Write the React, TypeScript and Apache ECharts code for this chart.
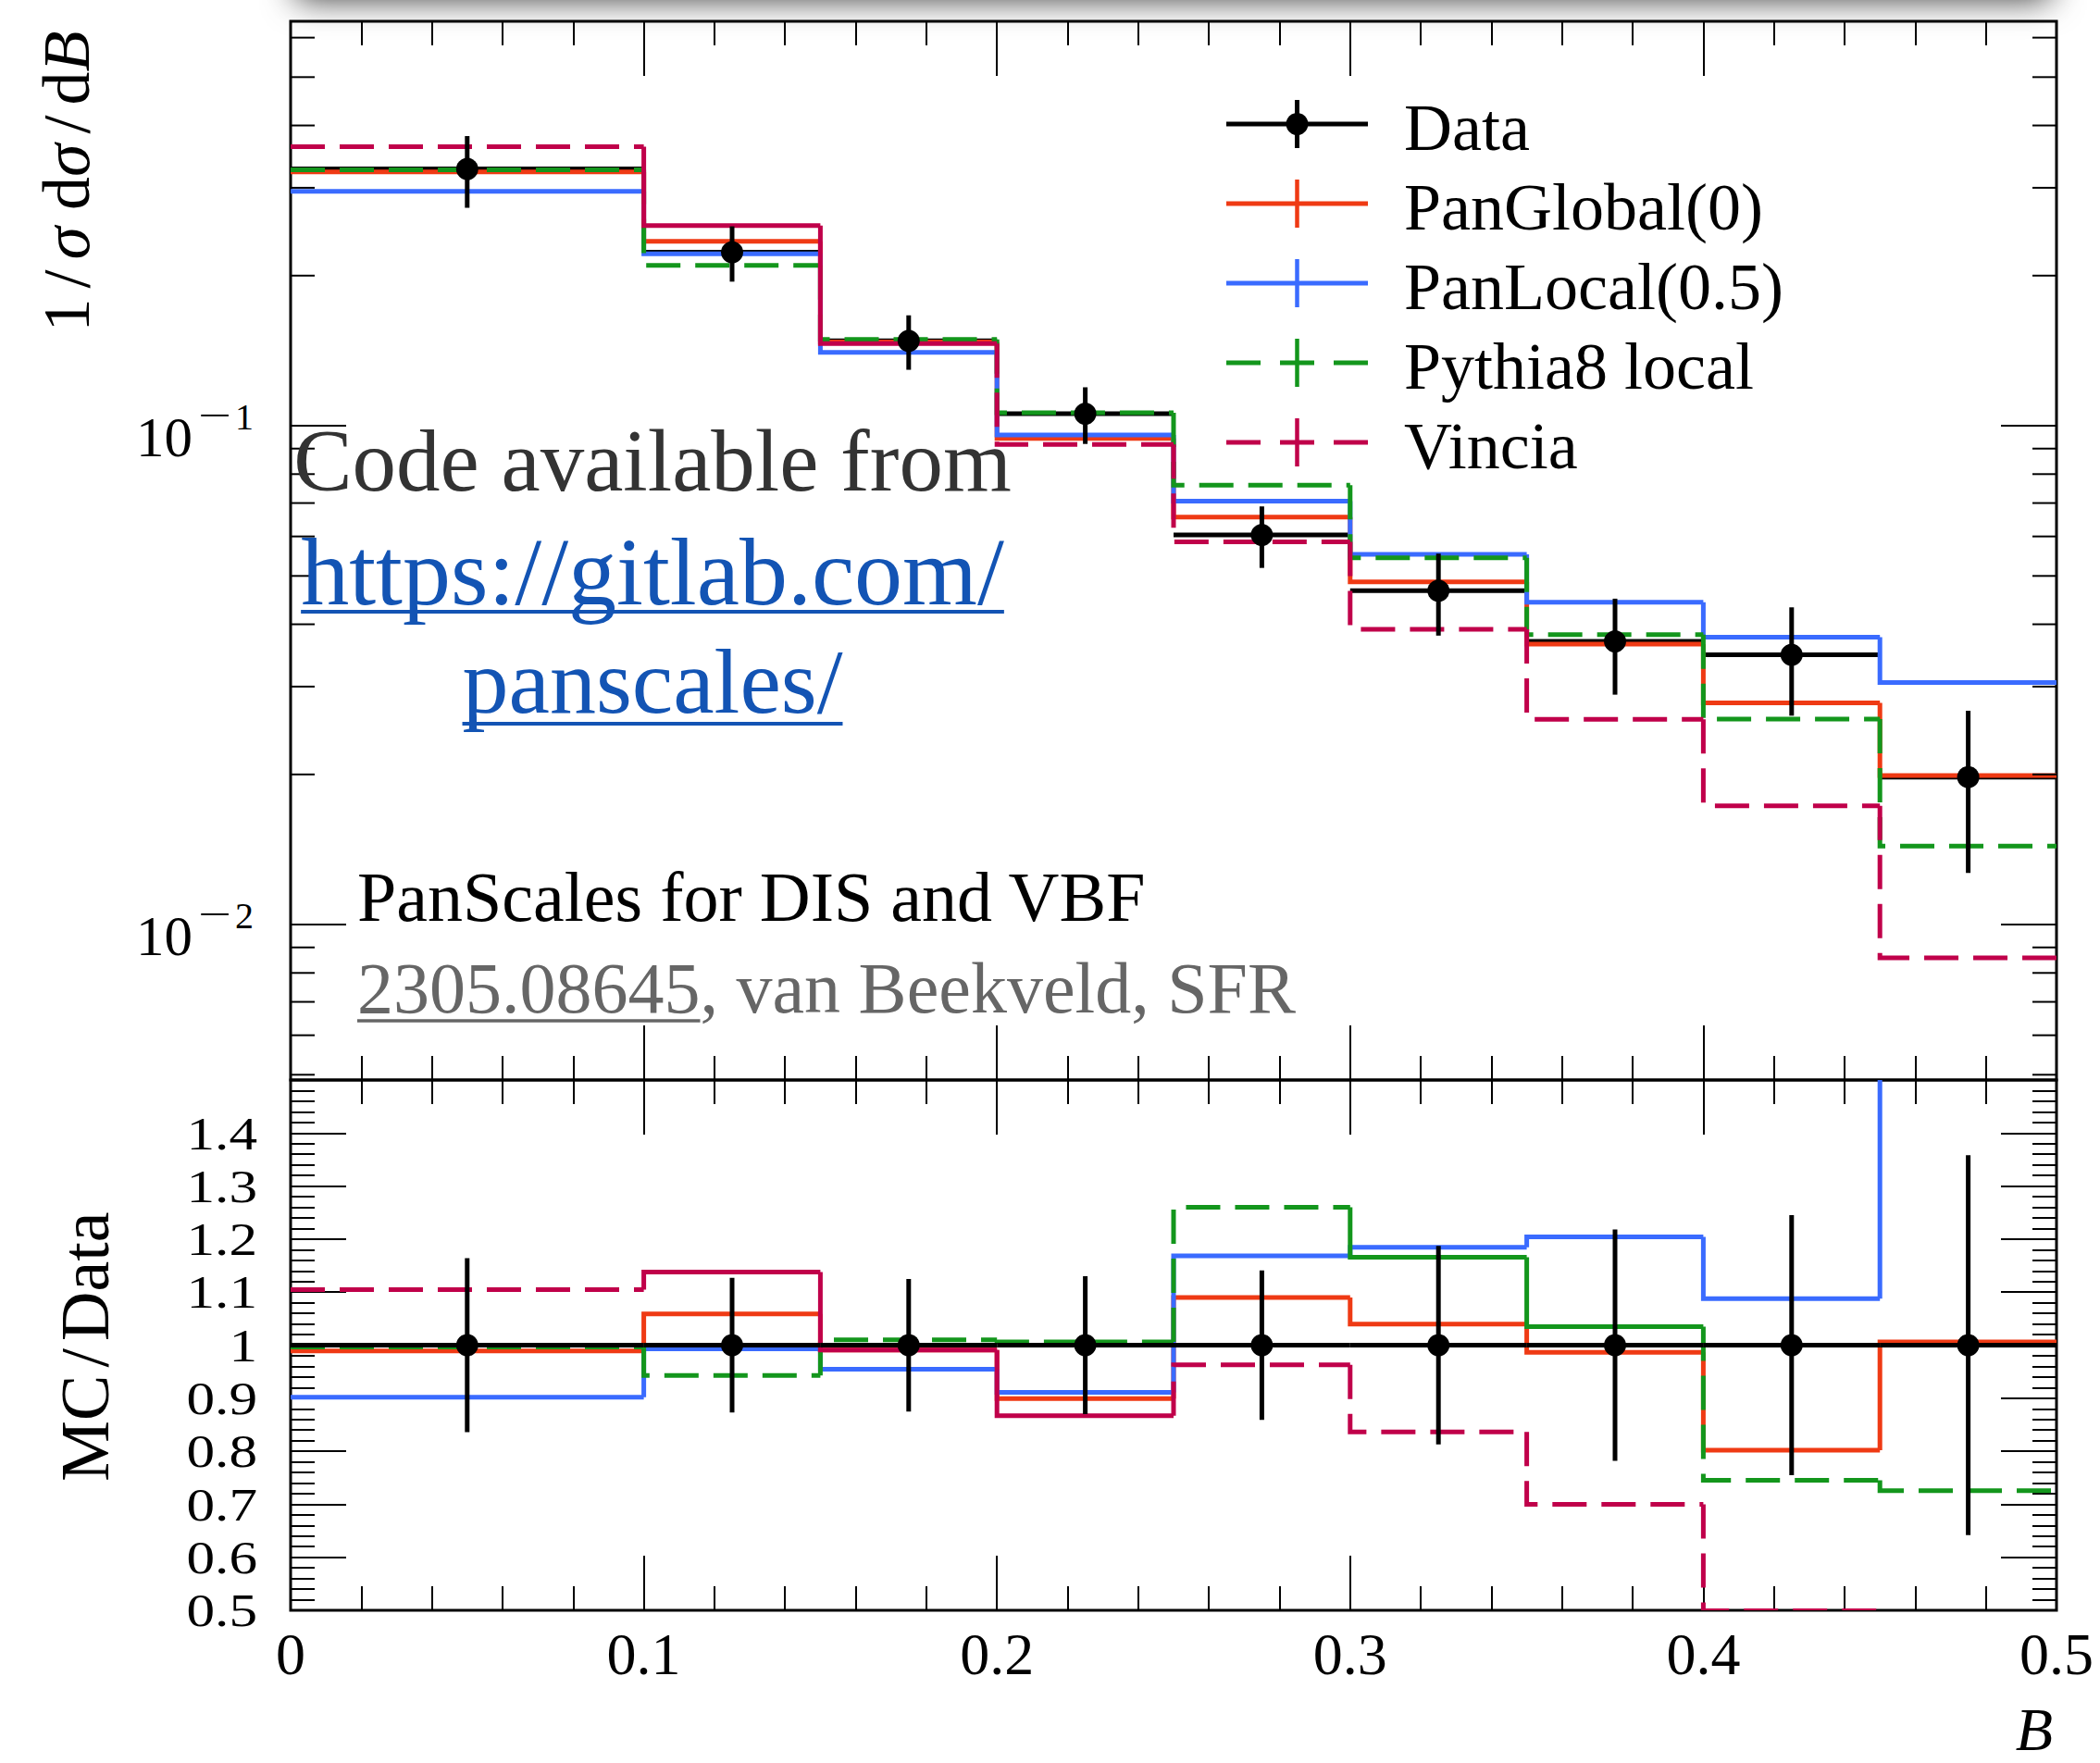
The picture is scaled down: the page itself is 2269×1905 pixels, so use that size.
import React, { useEffect, useRef } from 'react';
import * as echarts from 'echarts';

// ---------------- data ----------------
const binEdges = [0, 0.1, 0.15, 0.2, 0.25, 0.3, 0.35, 0.4, 0.45, 0.5];
const binCenters = [0.05, 0.125, 0.175, 0.225, 0.275, 0.325, 0.375, 0.425, 0.475];

const dataValues = [0.3272, 0.2228, 0.148, 0.1057, 0.0604, 0.04669, 0.03696, 0.03474, 0.01976];
const dataRelErr = [0.164, 0.127, 0.125, 0.13, 0.141, 0.187, 0.218, 0.245, 0.358];
const dataRatio = [1, 1, 1, 1, 1, 1, 1, 1, 1];

const panGlobal = [0.3228, 0.2342, 0.1473, 0.0943, 0.06559, 0.04862, 0.0365, 0.02782, 0.01989];
const panLocal = [0.2951, 0.2212, 0.1403, 0.0958, 0.07061, 0.05524, 0.04428, 0.03768, 0.03057];
const pythia8 = [0.326, 0.2096, 0.149, 0.1062, 0.07601, 0.05436, 0.03814, 0.02582, 0.01437];
const vincia = [0.3628, 0.2521, 0.1462, 0.0917, 0.05852, 0.0391, 0.02579, 0.0173, 0.00858];

const panGlobalRatio = [0.989, 1.059, 0.991, 0.899, 1.09, 1.0395, 0.9865, 0.802, 1.006];
const panLocalRatio = [0.902, 0.993, 0.9545, 0.911, 1.1685, 1.1846, 1.204, 1.0877, 1.55];
const pythia8Ratio = [0.9967, 0.943, 1.01, 1.006, 1.26, 1.166, 1.035, 0.745, 0.7255];
const vinciaRatio = [1.1045, 1.138, 0.991, 0.867, 0.963, 0.8366, 0.7, 0.499, 0.436];

const logMajorTicks = [0.01, 0.1];
const logMajorExponents = ['2', '1'];
const logMinorTicks = [
  0.005, 0.006, 0.007, 0.008, 0.009,
  0.02, 0.03, 0.04, 0.05, 0.06, 0.07, 0.08, 0.09,
  0.2, 0.3, 0.4, 0.5, 0.6,
];
const ratioTickValues = [0.5, 0.6, 0.7, 0.8, 0.9, 1.0, 1.1, 1.2, 1.3, 1.4];
const ratioTickLabels = ['0.5', '0.6', '0.7', '0.8', '0.9', '1', '1.1', '1.2', '1.3', '1.4'];
const legendLabels = ['Data', 'PanGlobal(0)', 'PanLocal(0.5)', 'Pythia8 local', 'Vincia'];

// ---------------- layout / style ----------------
const LEFT = 314;
const RIGHT = 2222;
const TOP = 23;
const MID = 1167;
const BOTTOM = 1740;
const Y_MIN = 0.00488;
const Y_MAX = 0.647;
const FONT = "'Liberation Serif', 'Times New Roman', Times, serif";
const COL = {
  data: '#000000',
  panGlobal: '#ef3a14',
  panLocal: '#3a6bff',
  pythia: '#13961c',
  vincia: '#c0004a',
};
const LW = 5;
const DASH = [37, 16];
const TICK_W = 2;

function measure(text: string, size: number, italic = false): number {
  const ctx = document.createElement('canvas').getContext('2d');
  if (!ctx) return text.length * size * 0.5;
  ctx.font = `${italic ? 'italic ' : ''}${size}px 'Liberation Serif'`;
  return ctx.measureText(text).width;
}

function xAxisCfg(gridIndex: number, position: string, labels: boolean) {
  return {
    type: 'value',
    gridIndex,
    position,
    min: 0,
    max: 0.5,
    interval: 0.1,
    axisLine: { show: false, onZero: false },
    axisTick: { show: true, inside: true, length: 59, lineStyle: { color: '#000', width: TICK_W } },
    minorTick: { show: true, splitNumber: 5, length: 26, lineStyle: { color: '#000', width: TICK_W } },
    splitLine: { show: false },
    minorSplitLine: { show: false },
    axisLabel: labels
      ? {
          show: true,
          showMinLabel: true,
          showMaxLabel: true,
          margin: 17,
          fontSize: 64,
          lineHeight: 60,
          fontFamily: FONT,
          color: '#000',
          formatter: (v: number) => String(Math.round(v * 10) / 10),
        }
      : { show: false },
  };
}

function ratioAxis(position: string) {
  return {
    type: 'value',
    gridIndex: 1,
    position,
    min: 0.5,
    max: 1.5,
    interval: 0.1,
    axisLine: { show: false, onZero: false },
    axisTick: { show: true, inside: true, length: 60, lineStyle: { color: '#000', width: TICK_W } },
    minorTick: { show: true, splitNumber: 5, length: 26, lineStyle: { color: '#000', width: TICK_W } },
    splitLine: { show: false },
    minorSplitLine: { show: false },
    axisLabel: { show: false },
  };
}

function ratioLabelSeries() {
  return {
    type: 'custom',
    xAxisIndex: 2,
    yAxisIndex: 1,
    silent: true,
    clip: false,
    z: 6,
    data: ratioTickValues.map((v) => [0, v]),
    encode: { x: 0, y: 1 },
    renderItem: (params: any, api: any) => {
      const i = params.dataIndex;
      const p = api.coord([0, ratioTickValues[i]]);
      return {
        type: 'text',
        x: p[0] - 36,
        y: p[1],
        scaleX: 1.2,
        style: {
          text: ratioTickLabels[i],
          fontSize: 51,
          lineHeight: 46,
          fontFamily: FONT,
          fill: '#000',
          align: 'right',
          verticalAlign: 'middle',
        },
      };
    },
  };
}

function histSeries(
  name: string,
  values: number[],
  color: string,
  dashed: boolean,
  solidBins: number[],
  xi: number,
  yi: number
) {
  return {
    type: 'custom',
    name,
    xAxisIndex: xi,
    yAxisIndex: yi,
    clip: true,
    silent: true,
    z: 3,
    data: values.map((v, i) => [binCenters[i], v]),
    encode: { x: 0, y: 1 },
    renderItem: (params: any, api: any) => {
      const i = params.dataIndex;
      const pts: number[][] = [];
      if (i > 0) pts.push(api.coord([binEdges[i], values[i - 1]]));
      pts.push(api.coord([binEdges[i], values[i]]));
      pts.push(api.coord([binEdges[i + 1], values[i]]));
      const style: any = { stroke: color, lineWidth: LW, fill: 'none' };
      if (dashed && solidBins.indexOf(i) < 0) style.lineDash = DASH;
      return { type: 'polyline', shape: { points: pts }, style };
    },
  };
}

function dataSeries(
  values: number[],
  errs: number[],
  xi: number,
  yi: number,
  withBars: boolean,
  withPoints: boolean,
  z: number
) {
  return {
    type: 'custom',
    name: 'Data',
    xAxisIndex: xi,
    yAxisIndex: yi,
    clip: true,
    silent: true,
    z,
    data: values.map((v, i) => [binCenters[i], v]),
    encode: { x: 0, y: 1 },
    renderItem: (params: any, api: any) => {
      const i = params.dataIndex;
      const v = values[i];
      const e = errs[i];
      const children: any[] = [];
      if (withBars) {
        const a = api.coord([binEdges[i], v]);
        const b = api.coord([binEdges[i + 1], v]);
        children.push({
          type: 'line',
          shape: { x1: a[0], y1: a[1], x2: b[0], y2: b[1] },
          style: { stroke: COL.data, lineWidth: LW },
        });
      }
      if (withPoints) {
        const c = api.coord([binCenters[i], v]);
        const lo = api.coord([binCenters[i], v - e]);
        const hi = api.coord([binCenters[i], v + e]);
        children.push({
          type: 'line',
          shape: { x1: lo[0], y1: lo[1], x2: hi[0], y2: hi[1] },
          style: { stroke: COL.data, lineWidth: LW },
        });
        children.push({
          type: 'circle',
          shape: { cx: c[0], cy: c[1], r: 12 },
          style: { fill: COL.data },
        });
      }
      return { type: 'group', children };
    },
  };
}

function logTickSeries() {
  const ticks = [
    ...logMajorTicks.map((v, k) => ({ v, major: true, exp: logMajorExponents[k] })),
    ...logMinorTicks.map((v) => ({ v, major: false, exp: '' })),
  ];
  return {
    type: 'custom',
    xAxisIndex: 0,
    yAxisIndex: 0,
    silent: true,
    clip: false,
    z: 6,
    data: ticks.map((t) => [0, t.v]),
    encode: { x: 0, y: 1 },
    renderItem: (params: any, api: any) => {
      const t = ticks[params.dataIndex];
      const l = api.coord([0, t.v]);
      const r = api.coord([0.5, t.v]);
      const len = t.major ? 60 : 26;
      const children: any[] = [
        {
          type: 'line',
          shape: { x1: l[0], y1: l[1], x2: l[0] + len, y2: l[1] },
          style: { stroke: '#000', lineWidth: TICK_W },
        },
        {
          type: 'line',
          shape: { x1: r[0] - len, y1: r[1], x2: r[0], y2: r[1] },
          style: { stroke: '#000', lineWidth: TICK_W },
        },
      ];
      if (t.major) {
        children.push({
          type: 'text',
          x: l[0] - 106,
          y: l[1] + 12,
          style: {
            text: '10',
            fontSize: 61,
            lineHeight: 50,
            fontFamily: FONT,
            fill: '#000',
            align: 'right',
            verticalAlign: 'middle',
          },
        });
        children.push({
          type: 'text',
          x: l[0] - 100,
          y: l[1] - 12,
          scaleX: 1.6,
          style: {
            text: '\u2212',
            fontSize: 40,
            lineHeight: 30,
            fontFamily: FONT,
            fill: '#000',
            align: 'left',
            verticalAlign: 'middle',
          },
        });
        children.push({
          type: 'text',
          x: l[0] - 60,
          y: l[1] - 10,
          style: {
            text: t.exp,
            fontSize: 40,
            lineHeight: 30,
            fontFamily: FONT,
            fill: '#000',
            align: 'left',
            verticalAlign: 'middle',
          },
        });
      }
      return { type: 'group', children };
    },
  };
}

function buildGraphic() {
  const els: any[] = [];
  // soft shadow along the top edge
  els.push({
    type: 'rect',
    silent: true,
    z: 50,
    shape: { x: 320, y: -304, width: 1895, height: 300 },
    style: { fill: '#ffffff', shadowBlur: 36, shadowColor: 'rgba(0,0,0,0.8)', shadowOffsetY: 3 },
  });

  // legend
  const legColors = [COL.data, COL.panGlobal, COL.panLocal, COL.pythia, COL.vincia];
  const legDashed = [false, false, false, true, true];
  const rows = [134, 220, 306, 392, 478];
  const x0 = 1325;
  const x1 = 1478;
  const xc = 1401.5;
  legendLabels.forEach((label, k) => {
    const y = rows[k];
    const line: any = {
      type: 'line',
      silent: true,
      z: 60,
      shape: { x1: x0, y1: y, x2: x1, y2: y },
      style: { stroke: legColors[k], lineWidth: LW },
    };
    if (legDashed[k]) line.style.lineDash = [37, 21];
    els.push(line);
    els.push({
      type: 'line',
      silent: true,
      z: 60,
      shape: { x1: xc, y1: y - 26, x2: xc, y2: y + 26 },
      style: { stroke: legColors[k], lineWidth: k === 0 ? LW : 4.5 },
    });
    if (k === 0) {
      els.push({
        type: 'circle',
        silent: true,
        z: 61,
        shape: { cx: xc, cy: y, r: 12 },
        style: { fill: COL.data },
      });
    }
    els.push({
      type: 'text',
      silent: true,
      z: 60,
      x: 1517,
      y: y + 4,
      style: {
        text: label,
        fontSize: 72,
        fontFamily: FONT,
        fill: '#000',
        align: 'left',
        verticalAlign: 'middle',
      },
    });
  });

  // "Code available from" block
  els.push({
    type: 'text',
    silent: true,
    z: 40,
    x: 705,
    y: 498,
    style: {
      text: 'Code available from',
      fontSize: 95,
      fontFamily: FONT,
      fill: '#333333',
      align: 'center',
      verticalAlign: 'middle',
    },
  });
  const linkColor = '#1354b4';
  const url1 = 'https://gitlab.com/';
  const url2 = 'panscales/';
  const w1 = measure(url1, 104);
  const w2 = measure(url2, 100);
  els.push({
    type: 'text',
    silent: true,
    z: 40,
    x: 705,
    y: 617,
    style: { text: url1, fontSize: 104, fontFamily: FONT, fill: linkColor, align: 'center', verticalAlign: 'middle' },
  });
  els.push({
    type: 'line',
    silent: true,
    z: 40,
    shape: { x1: 705 - w1 / 2, y1: 661, x2: 705 + w1 / 2, y2: 661 },
    style: { stroke: linkColor, lineWidth: 4 },
  });
  els.push({
    type: 'text',
    silent: true,
    z: 40,
    x: 705,
    y: 736,
    style: { text: url2, fontSize: 100, fontFamily: FONT, fill: linkColor, align: 'center', verticalAlign: 'middle' },
  });
  els.push({
    type: 'line',
    silent: true,
    z: 40,
    shape: { x1: 705 - w2 / 2, y1: 782, x2: 705 + w2 / 2, y2: 782 },
    style: { stroke: linkColor, lineWidth: 4 },
  });

  // credits
  els.push({
    type: 'text',
    silent: true,
    z: 40,
    x: 386,
    y: 969,
    style: {
      text: 'PanScales for DIS and VBF',
      fontSize: 76,
      fontFamily: FONT,
      fill: '#000',
      align: 'left',
      verticalAlign: 'middle',
    },
  });
  const arxiv = '2305.08645';
  const wa = measure(arxiv, 78);
  els.push({
    type: 'text',
    silent: true,
    z: 40,
    x: 386,
    y: 1067,
    style: {
      text: arxiv + ', van Beekveld, SFR',
      fontSize: 78,
      fontFamily: FONT,
      fill: '#666666',
      align: 'left',
      verticalAlign: 'middle',
    },
  });
  els.push({
    type: 'line',
    silent: true,
    z: 40,
    shape: { x1: 386, y1: 1103, x2: 386 + wa, y2: 1103 },
    style: { stroke: '#666666', lineWidth: 3.5 },
  });

  // axis titles
  els.push({
    type: 'text',
    silent: true,
    z: 40,
    x: 72,
    y: 196,
    rotation: Math.PI / 2,
    style: {
      text: '{r|1}{s|/}{i|σ}{r| d}{i|σ}{s|/}{r|d}{i|B}',
      align: 'center',
      verticalAlign: 'middle',
      rich: {
        r: { fontSize: 72, fontFamily: FONT, fill: '#000' },
        i: { fontSize: 72, fontFamily: FONT, fontStyle: 'italic', fill: '#000' },
        s: { fontSize: 72, fontFamily: FONT, fill: '#000', padding: [0, 11] },
      },
    },
  });
  els.push({
    type: 'text',
    silent: true,
    z: 40,
    x: 92,
    y: 1455,
    rotation: Math.PI / 2,
    style: {
      text: '{r|MC}{s|/}{r|Data}',
      align: 'center',
      verticalAlign: 'middle',
      rich: {
        r: { fontSize: 74, fontFamily: FONT, fill: '#000' },
        s: { fontSize: 74, fontFamily: FONT, fill: '#000', padding: [0, 8] },
      },
    },
  });
  els.push({
    type: 'text',
    silent: true,
    z: 40,
    x: 2218,
    y: 1868,
    style: {
      text: 'B',
      fontSize: 66,
      lineHeight: 52,
      fontFamily: FONT,
      fontStyle: 'italic',
      fill: '#000',
      align: 'right',
      verticalAlign: 'middle',
    },
  });
  return els;
}

function buildOption() {
  const upperErr = dataValues.map((v, i) => v * dataRelErr[i]);
  return {
    animation: false,
    backgroundColor: '#ffffff',
    grid: [
      {
        left: LEFT,
        top: TOP,
        width: RIGHT - LEFT,
        height: MID - TOP,
        show: true,
        borderColor: '#000',
        borderWidth: 3,
        backgroundColor: 'transparent',
        containLabel: false,
        outerBoundsMode: 'none',
      },
      {
        left: LEFT,
        top: MID,
        width: RIGHT - LEFT,
        height: BOTTOM - MID,
        show: true,
        borderColor: '#000',
        borderWidth: 3,
        backgroundColor: 'transparent',
        containLabel: false,
        outerBoundsMode: 'none',
      },
    ],
    xAxis: [
      xAxisCfg(0, 'bottom', false),
      xAxisCfg(0, 'top', false),
      xAxisCfg(1, 'bottom', true),
      xAxisCfg(1, 'top', false),
    ],
    yAxis: [
      {
        type: 'log',
        logBase: 10,
        gridIndex: 0,
        min: Y_MIN,
        max: Y_MAX,
        axisLine: { show: false, onZero: false },
        axisTick: { show: false },
        minorTick: { show: false },
        axisLabel: { show: false },
        splitLine: { show: false },
        minorSplitLine: { show: false },
      },
      ratioAxis('left'),
      ratioAxis('right'),
    ],
    series: [
      dataSeries(dataValues, upperErr, 0, 0, true, false, 2),
      histSeries('PanGlobal(0)', panGlobal, COL.panGlobal, false, [], 0, 0),
      histSeries('PanLocal(0.5)', panLocal, COL.panLocal, false, [], 0, 0),
      histSeries('Pythia8 local', pythia8, COL.pythia, true, [], 0, 0),
      histSeries('Vincia', vincia, COL.vincia, true, [1, 2], 0, 0),
      dataSeries(dataValues, upperErr, 0, 0, false, true, 4),
      logTickSeries(),
      histSeries('PanGlobal(0) ratio', panGlobalRatio, COL.panGlobal, false, [], 2, 1),
      histSeries('PanLocal(0.5) ratio', panLocalRatio, COL.panLocal, false, [], 2, 1),
      histSeries('Pythia8 local ratio', pythia8Ratio, COL.pythia, true, [5, 6], 2, 1),
      histSeries('Vincia ratio', vinciaRatio, COL.vincia, true, [1, 2, 3], 2, 1),
      dataSeries(dataRatio, dataRelErr, 2, 1, true, true, 4),
      ratioLabelSeries(),
    ],
    graphic: { elements: buildGraphic() },
  };
}

export default function App() {
  const ref = useRef<HTMLDivElement>(null);
  useEffect(() => {
    if (!ref.current) return;
    const chart = echarts.init(ref.current, undefined, { renderer: 'svg' });
    chart.setOption(buildOption() as any);
    return () => {
      chart.dispose();
    };
  }, []);
  return (
    <div
      ref={ref}
      style={{ position: 'absolute', left: 0, top: 0, width: 2269, height: 1905, background: '#fff' }}
    />
  );
}
